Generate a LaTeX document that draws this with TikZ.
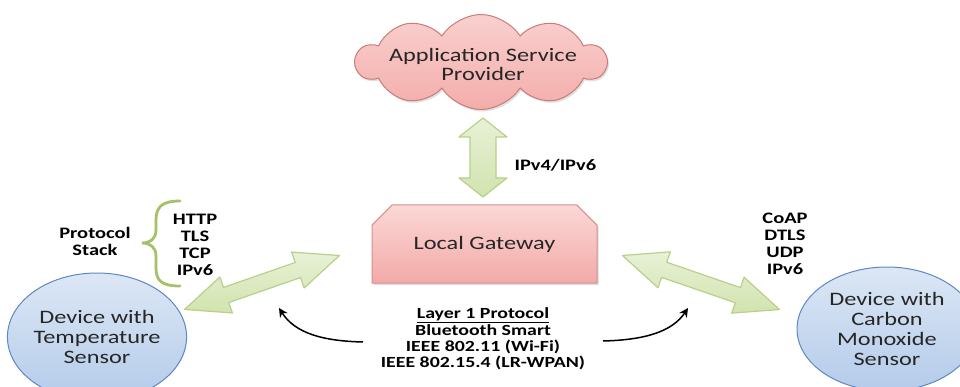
\documentclass[tikz,border=0pt]{standalone}
\usepackage{fontspec}
\setmainfont{Carlito}[FakeStretch=1.28]
\usetikzlibrary{shapes.symbols,shapes.misc,shapes.geometric,shadows,arrows.meta}
\definecolor{cloudtop}{HTML}{F9D0CE}
\definecolor{cloudbot}{HTML}{F3ADAB}
\definecolor{cloudline}{HTML}{C97C79}
\definecolor{gwtop}{HTML}{FBD8D6}
\definecolor{gwbot}{HTML}{F2AAA8}
\definecolor{gwline}{HTML}{D48F8C}
\definecolor{elltop}{HTML}{DCE7F5}
\definecolor{ellbot}{HTML}{B4CBEA}
\definecolor{ellline}{HTML}{5C88C4}
\definecolor{arrtop}{HTML}{E8F1D6}
\definecolor{arrbot}{HTML}{D2E3AE}
\definecolor{arrline}{HTML}{B8D08A}
\definecolor{bracecol}{HTML}{A4C26A}
\tikzset{
  bigtxt/.style={font=\fontsize{19}{20}\selectfont, align=center, text=black!85},
  lbl/.style={font=\bfseries\fontsize{16}{17}\selectfont, align=center, text=black},
  blockarrow/.style={draw=arrline, line width=1.2pt, top color=arrtop, bottom color=arrbot, line join=round},
  pics/dblarrow/.style n args={4}{code={
    \draw[blockarrow] (-#1/2,0) -- (-#1/2+#2,#3) -- (-#1/2+#2,#4) -- (#1/2-#2,#4) -- (#1/2-#2,#3) -- (#1/2,0)
      -- (#1/2-#2,-#3) -- (#1/2-#2,-#4) -- (-#1/2+#2,-#4) -- (-#1/2+#2,-#3) -- cycle;
  }},
  devicebox/.style={ellipse, draw=ellline, line width=1pt, top color=elltop, bottom color=ellbot, bigtxt, inner sep=0pt},
  curvearrow/.style={draw=black, line width=1.5pt, -{Stealth[length=9pt,width=9pt]}},
}
\begin{document}
\begin{tikzpicture}[x=1pt,y=-1pt]
\useasboundingbox (0,0) rectangle (960,387);
\fill[white] (0,0) rectangle (960,387);
\clip (0,0) rectangle (960,387);

% cloud
\node[cloud, cloud puffs=10, cloud puff arc=115, aspect=2.6, inner sep=0pt,
      minimum width=250pt, minimum height=95pt, draw=cloudline, line width=1pt,
      top color=cloudtop, bottom color=cloudbot,
      drop shadow={opacity=0.25, shadow xshift=1.5pt, shadow yshift=-2pt}] (asp) at (481,62) {};
\node[bigtxt, font=\fontsize{19}{19}\selectfont] (asptext) at (483,64) {Application Service\\Provider};

% gateway
\node[chamfered rectangle, chamfered rectangle corners={north west,north east},
      chamfered rectangle xsep=12pt, chamfered rectangle ysep=12pt,
      minimum width=225pt, minimum height=78pt, inner sep=0pt,
      draw=gwline, line width=1pt, top color=gwtop, bottom color=gwbot,
      drop shadow={opacity=0.25, shadow xshift=1.5pt, shadow yshift=-2pt},
      bigtxt] (gw) at (484.5,244) {Local Gateway};

% devices
\node[devicebox, minimum width=172pt, minimum height=128pt] (temp) at (97,337) {Device with\\Temperature\\Sensor};
\node[devicebox, minimum width=180pt, minimum height=124pt] (co) at (887,329) {Device with\\Carbon\\Monoxide\\Sensor};

% block arrows
\pic[rotate=90] at (483,157.5) {dblarrow={79}{19}{24}{13}};
\pic[rotate=19.2] at (262,282.5) {dblarrow={164}{44}{19}{8}};
\pic[rotate=-19.0] at (701,282.5) {dblarrow={166}{44}{19}{8}};

% labels
\node[lbl, anchor=west] (ipv) at (511,165) {IPv4/IPv6};
\node[lbl] (proto) at (95,241) {Protocol\\Stack};
\node[lbl] (stackL) at (195,245) {HTTP\\TLS\\TCP\\IPv6};
\node[lbl] (stackR) at (785,243.5) {CoAP\\DTLS\\UDP\\IPv6};
\node[lbl, font=\bfseries\fontsize{15.5}{16}\selectfont] (layer) at (483,339)
  {\underline{Layer 1 Protocol}\\[1pt]Bluetooth Smart\\IEEE 802.11 (Wi-Fi)\\IEEE 802.15.4 (LR-WPAN)};

% brace
\draw[bracecol, line width=2.8pt, line cap=round]
  (180,201) .. controls (162,201) and (156,207) .. (156,220) -- (156,230)
  .. controls (156,239) and (150,243) .. (142,243)
  .. controls (150,243) and (156,247) .. (156,256) -- (156,268)
  .. controls (156,281) and (162,286) .. (180,286);

% curved arrows
\coordinate (lstart) at (363,342);
\coordinate (ltip) at (279,308);
\coordinate (rstart) at (603,341);
\coordinate (rtip) at (688,308);
\draw[curvearrow] (lstart) .. controls (322,341) and (295,333) .. (ltip);
\draw[curvearrow] (rstart) .. controls (644,340) and (672,332) .. (rtip);
\end{tikzpicture}
\end{document}
